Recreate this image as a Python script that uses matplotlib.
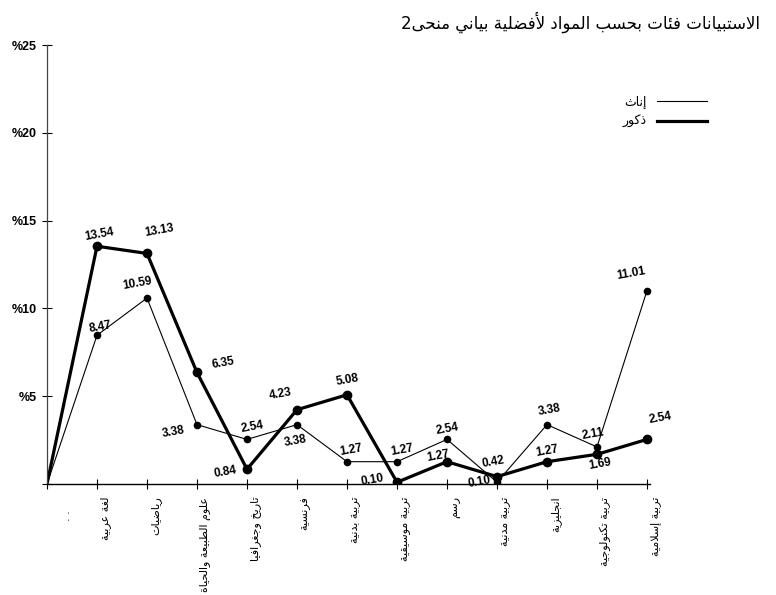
import matplotlib
matplotlib.use("Agg")
import matplotlib.pyplot as plt
from matplotlib.lines import Line2D

# data
subjects = ["", "لغة عربية", "رياضيات", "علوم الطبيعة والحياة", "تاريخ وجغرافيا",
            "فرنسية", "تربية بدنية", "تربية موسيقية", "رسم", "تربية مدنية",
            "انجليزية", "تربية تكنولوجية", "تربية إسلامية"]
girls = [0, 8.47, 10.59, 3.38, 2.54, 3.38, 1.27, 1.27, 2.54, 0.10, 3.38, 2.11, 11.01]
boys = [0, 13.54, 13.13, 6.35, 0.84, 4.23, 5.08, 0.10, 1.27, 0.42, 1.27, 1.69, 2.54]
yticks = [5, 10, 15, 20, 25]
title_words = ["منحى", "بياني", "لأفضلية", "المواد", "بحسب", "فئات", "الاستبيانات"]
legend_labels = ["إناث", "ذكور"]

# label offsets in pixels (dx, dy)
girls_off = [None, (3, 8), (-10, 15), (-24, -7), (5, 12), (-2, -16), (4, 12), (5, 12),
             (0, 10), (-18, 0), (2, 15), (-4, 13), (-16, 17)]
boys_off = [None, (2, 12), (12, 23), (26, 9), (-22, -3), (-16, 16), (0, 15), (-25, 2),
            (-9, 6), (-4, 15), (0, 11), (3, -10), (13, 21)]

# simple arabic shaping (matplotlib has no text shaping)
FORMS = {
    'ء': (0xFE80, 1), 'آ': (0xFE81, 2), 'أ': (0xFE83, 2), 'ؤ': (0xFE85, 2), 'إ': (0xFE87, 2),
    'ئ': (0xFE89, 4), 'ا': (0xFE8D, 2), 'ب': (0xFE8F, 4), 'ة': (0xFE93, 2), 'ت': (0xFE95, 4),
    'ث': (0xFE99, 4), 'ج': (0xFE9D, 4), 'ح': (0xFEA1, 4), 'خ': (0xFEA5, 4), 'د': (0xFEA9, 2),
    'ذ': (0xFEAB, 2), 'ر': (0xFEAD, 2), 'ز': (0xFEAF, 2), 'س': (0xFEB1, 4), 'ش': (0xFEB5, 4),
    'ص': (0xFEB9, 4), 'ض': (0xFEBD, 4), 'ط': (0xFEC1, 4), 'ظ': (0xFEC5, 4), 'ع': (0xFEC9, 4),
    'غ': (0xFECD, 4), 'ف': (0xFED1, 4), 'ق': (0xFED5, 4), 'ك': (0xFED9, 4), 'ل': (0xFEDD, 4),
    'م': (0xFEE1, 4), 'ن': (0xFEE5, 4), 'ه': (0xFEE9, 4), 'و': (0xFEED, 2), 'ى': (0xFEEF, 2),
    'ي': (0xFEF1, 4),
}
LAMALEF = {'آ': 0xFEF5, 'أ': 0xFEF7, 'إ': 0xFEF9, 'ا': 0xFEFB}


def shape(word):
    out = []
    i = 0
    n = len(word)
    while i < n:
        c = word[i]
        if c not in FORMS:
            out.append(c)
            i += 1
            continue
        prev = word[i - 1] if i > 0 else ''
        joins_prev = prev in FORMS and FORMS[prev][1] == 4 and FORMS[c][1] > 1
        if c == 'ل' and i + 1 < n and word[i + 1] in LAMALEF:
            out.append(chr(LAMALEF[word[i + 1]] + (1 if joins_prev else 0)))
            i += 2
            continue
        nxt = word[i + 1] if i + 1 < n else ''
        joins_next = FORMS[c][1] == 4 and nxt in FORMS and FORMS[nxt][1] > 1
        base = FORMS[c][0]
        if joins_prev and joins_next:
            off = 3
        elif joins_prev:
            off = 1
        elif joins_next:
            off = 2
        else:
            off = 0
        out.append(chr(base + off))
        i += 1
    return ''.join(out)


def rtl(text):
    return shape(text)[::-1]


AR = ["DejaVu Sans"]
NUM = ["Liberation Sans", "DejaVu Sans"]

fig = plt.figure(figsize=(7.76, 5.95), dpi=100)
# 50 px per category, x axis runs 0..12.2 so the last label still fits
ax = fig.add_axes([47 / 776, 111 / 595, 610 / 776, 439 / 595])

x = list(range(len(subjects)))
ax.plot(x, girls, color="black", lw=0.8, marker="o", ms=4.5, markevery=x[1:])
ax.plot(x, boys, color="black", lw=2.3, marker="o", ms=6, markevery=x[1:])

for i in x[1:]:
    ax.annotate(f"{girls[i]:.2f}", (i, girls[i]), xytext=girls_off[i],
                textcoords="offset pixels", ha="center", va="center",
                fontsize=8.5, fontweight="bold", family=NUM, rotation=10)
    ax.annotate(f"{boys[i]:.2f}", (i, boys[i]), xytext=boys_off[i],
                textcoords="offset pixels", ha="center", va="center",
                fontsize=8.5, fontweight="bold", family=NUM, rotation=10)

ax.set_yticks([0] + yticks)
ax.set_yticklabels([""] + [f"%{v}" for v in yticks], fontsize=9, fontweight="bold", family=NUM)

# tick marks on the categories, labels drawn slightly to the right of them
ax.set_xticks(x)
ax.set_xticklabels([])
label_pos = [0.46] + [xi + 0.17 for xi in x[1:]]
ax.set_xticks(label_pos, minor=True)
ax.set_xticklabels(["\u00b7 \u00b7" + "\u00a0" * 4] + [rtl(s) for s in subjects[1:]], minor=True,
                   rotation=90, fontsize=8, family=AR, va="top", ha="center")
ax.tick_params(axis="x", which="minor", length=0, pad=9)
ax.set_xlim(0, 12.2)
ax.set_ylim(0, 25)

ax.tick_params(axis="both", which="major", direction="inout", length=7, width=0.8, color="black")
ax.tick_params(axis="y", pad=4)
for s in ["top", "right"]:
    ax.spines[s].set_visible(False)
ax.spines["left"].set_color("#444444")
ax.spines["left"].set_linewidth(0.9)
ax.spines["left"].set_linestyle((0, (2, 1)))
ax.spines["bottom"].set_linewidth(1.0)
ax.spines["bottom"].set_bounds(0, 12.06)

title = "2" + " ".join(shape(w)[::-1] for w in title_words)
fig.text(760 / 776, 1 - 22 / 595, title, ha="right", va="center", fontsize=12, family=AR)

handles = [Line2D([], [], color="black", lw=0.8), Line2D([], [], color="black", lw=2.3)]
fig.legend(handles, [rtl(t) for t in legend_labels], loc="center",
           bbox_to_anchor=(665 / 776, 1 - 112 / 595), frameon=False, markerfirst=False,
           handlelength=4.0, prop={"family": AR, "size": 9}, labelspacing=0.5)

fig.savefig("out.png", dpi=100)
